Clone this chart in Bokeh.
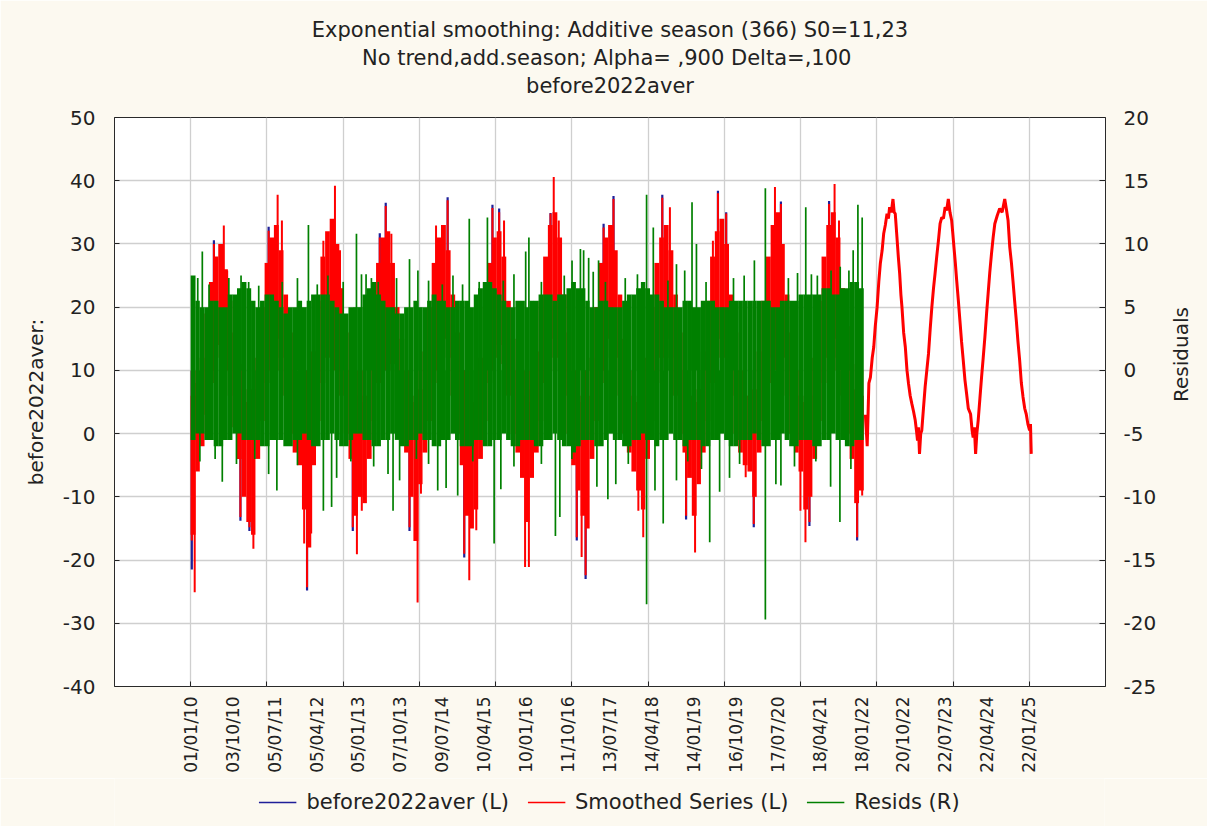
import math
import pandas as pd
from bokeh.plotting import figure
from bokeh.layouts import column
from bokeh.models import Range1d, LinearAxis, FixedTicker, Legend, LegendItem, Title
from bokeh.embed import file_html
from bokeh.resources import INLINE

ORIGIN = pd.Timestamp("2010-01-01")
FONT = "DejaVu Sans"

# ---------------- titles / axis ticks / labels ----------------
title_lines = ["Exponential smoothing: Additive season (366) S0=11,23",
               "No trend,add.season; Alpha=  ,900 Delta=,100",
               "before2022aver"]
series_names = ["before2022aver (L)", "Smoothed Series (L)", "Resids (R)"]
tick_labels = ["01/01/10", "03/10/10", "05/07/11", "05/04/12", "05/01/13", "07/10/13",
               "09/07/14", "10/04/15", "10/01/16", "11/10/16", "13/07/17", "14/04/18",
               "14/01/19", "16/10/19", "17/07/20", "18/04/21", "18/01/22", "20/10/22",
               "22/07/23", "22/04/24", "22/01/25"]
grid_cases = [0, 500, 1000, 1500, 2000, 2500, 3000, 3500, 4000, 4500, 5000, 5500]
left_ticks = [-40, -30, -20, -10, 0, 10, 20, 30, 40, 50]
right_ticks = [-25, -20, -15, -10, -5, 0, 5, 10, 15, 20]

# ---------------- observed period, monthly envelopes (Jan 2010 .. Jan 2022) ----------------
# before2022aver / smoothed series envelope (left axis)
red_hi = [6, 8, 12, 19, 24, 28, 30, 26, 21, 16, 11, 7,      # 2010
          5, 7, 12, 20, 27, 31, 33, 29, 22, 16, 10, 7,      # 2011
          5, 6, 13, 21, 28, 32, 34, 30, 23, 16, 10, 6,      # 2012
          5, 6, 12, 20, 27, 31, 32, 27, 20, 15, 10, 6,      # 2013
          5, 7, 13, 20, 27, 31, 33, 29, 22, 16, 10, 6,      # 2014
          5, 7, 12, 20, 27, 31, 32, 28, 21, 15, 10, 6,      # 2015
          5, 7, 13, 21, 28, 33, 35, 31, 22, 16, 10, 6,      # 2016
          5, 6, 12, 20, 27, 31, 33, 29, 22, 15, 10, 6,      # 2017
          5, 6, 12, 20, 27, 31, 33, 29, 22, 16, 10, 6,      # 2018
          5, 7, 13, 21, 28, 32, 34, 30, 22, 16, 10, 6,      # 2019
          6, 7, 13, 21, 28, 33, 35, 30, 22, 16, 10, 6,      # 2020
          5, 6, 12, 21, 28, 33, 35, 31, 23, 17, 11, 7,      # 2021
          6]                                                # 2022
red_lo = [-16, -6, -2, 3, 8, 12, 14, 11, 6, 1, -4, -10,
          -14, -16, -4, 2, 8, 12, 15, 12, 6, 0, -3, -5,
          -12, -18, -5, 2, 8, 12, 15, 12, 6, 0, -4, -13,
          -10, -11, -4, 2, 8, 12, 14, 11, 6, 0, -3, -10,
          -17, -8, -3, 2, 8, 12, 15, 12, 6, 0, -5, -13,
          -15, -12, -4, 2, 8, 12, 14, 11, 6, 0, -3, -7,
          -14, -7, -3, 2, 8, 12, 15, 12, 6, 0, -5, -9,
          -13, -15, -4, 2, 8, 12, 15, 12, 6, 0, -3, -6,
          -9, -12, -4, 2, 8, 12, 15, 12, 6, 0, -3, -7,
          -13, -8, -3, 2, 8, 12, 15, 12, 6, 0, -3, -5,
          -6, -10, -3, 2, 8, 12, 15, 12, 6, 0, -3, -6,
          -12, -10, -4, 2, 8, 12, 15, 12, 6, 0, -4, -11,
          -9]
# residual core envelope (right axis)
resid_hi = [7.5, 5.5, 5.0, 5.0, 5.5, 5.5, 5.0, 5.0, 6.0, 6.0, 6.5, 7.0,
            6.5, 5.5, 5.0, 5.5, 6.0, 6.0, 5.5, 5.0, 4.5, 5.0, 5.0, 5.5,
            5.0, 5.5, 6.0, 6.0, 6.0, 6.0, 5.5, 5.0, 4.5, 4.5, 5.0, 5.0,
            5.0, 6.0, 6.5, 7.0, 6.0, 5.5, 5.0, 5.0, 4.5, 4.5, 5.0, 5.0,
            5.5, 5.0, 5.0, 5.5, 6.0, 5.5, 5.5, 5.0, 5.0, 5.5, 5.5, 5.5,
            5.0, 6.0, 6.5, 7.0, 7.0, 6.5, 6.0, 5.5, 5.0, 5.0, 5.5, 5.5,
            5.0, 5.5, 5.5, 6.0, 6.0, 6.0, 5.5, 6.0, 6.0, 6.5, 7.0, 6.5,
            6.5, 5.5, 5.0, 5.0, 5.5, 5.5, 5.0, 5.0, 5.0, 5.5, 6.0, 6.0,
            6.5, 7.0, 6.5, 6.0, 6.0, 5.5, 5.0, 5.0, 5.0, 5.0, 5.5, 5.5,
            5.0, 5.0, 5.5, 5.5, 5.5, 5.0, 5.0, 5.0, 5.5, 5.5, 5.5, 5.5,
            5.5, 5.5, 5.5, 5.5, 5.5, 5.0, 5.0, 5.5, 5.5, 5.5, 5.5, 6.0,
            6.0, 6.0, 6.0, 6.0, 6.5, 6.5, 6.0, 6.0, 6.5, 6.5, 7.0, 7.0,
            6.5]
resid_lo = [-5.5, -5.0, -5.0, -5.5, -5.5, -6.0, -6.0, -5.5, -5.5, -5.0, -5.0, -5.5,
            -5.5, -5.5, -5.5, -6.0, -6.0, -5.5, -5.5, -5.5, -6.0, -6.0, -5.5, -5.5,
            -5.0, -5.5, -6.0, -6.0, -5.5, -5.5, -5.0, -5.5, -6.0, -6.0, -5.5, -5.0,
            -5.0, -5.5, -5.5, -6.0, -6.0, -5.5, -5.5, -5.0, -5.5, -6.0, -6.0, -5.5,
            -5.5, -5.0, -5.5, -5.5, -6.0, -6.0, -5.5, -5.5, -5.0, -5.5, -6.0, -6.0,
            -6.0, -5.5, -5.5, -6.0, -6.0, -5.5, -5.5, -5.0, -5.5, -6.0, -6.0, -5.5,
            -5.5, -5.5, -6.0, -6.0, -5.5, -5.5, -5.0, -5.5, -6.0, -6.0, -6.5, -6.0,
            -5.5, -5.5, -5.5, -6.0, -6.0, -5.5, -5.0, -5.5, -5.5, -6.0, -6.0, -5.5,
            -5.5, -5.0, -5.5, -5.5, -6.0, -5.5, -5.5, -5.0, -5.5, -5.5, -6.0, -5.5,
            -5.5, -5.5, -6.0, -6.0, -5.5, -5.5, -5.0, -5.5, -6.0, -6.0, -5.5, -5.5,
            -5.5, -5.0, -5.5, -6.0, -6.0, -5.5, -5.5, -5.0, -5.5, -6.0, -6.0, -5.5,
            -5.5, -5.5, -6.0, -6.0, -5.5, -5.5, -5.0, -5.5, -5.5, -6.0, -6.0, -5.5,
            -5.5]

# ---------------- single-day extremes (case number, value) ----------------
red_tip_day = [152, 217, 239, 511, 570, 598, 870, 946, 979, 1240, 1279, 1316,
               1609, 1685, 1979, 2023, 2055, 2360, 2381, 2414, 2708, 2773,
               3093, 3143, 3425, 3458, 3512, 3832, 3871, 4187, 4223, 4252,
               7, 26, 326, 385, 411, 744, 763, 790, 1063, 1090, 1122,
               1435, 1488, 1510, 1794, 1827, 1873, 2193, 2218,
               2532, 2564, 2590, 2936, 2968, 3249, 3308, 3640, 3693,
               3999, 4032, 4058, 4371, 4404]
red_tip_val = [30.0, 32.9, 25.8, 32.1, 37.8, 33.7, 30.5, 39.2, 29.0, 31.0, 36.0, 31.6,
               32.9, 36.9, 35.7, 35.0, 33.7, 34.8, 40.6, 33.7, 32.6, 37.1,
               37.3, 35.8, 30.5, 38.0, 34.8, 39.0, 36.3, 36.3, 39.5, 33.7,
               -16.9, -25.1, -13.2, -14.8, -18.2, -17.4, -24.3, -15.8, -14.8, -19.1, -12.2,
               -14.8, -26.7, -9.5, -19.0, -23.2, -15.3, -21.1, -21.1,
               -16.4, -19.5, -22.4, -12.2, -16.4, -13.0, -18.8, -6.9, -14.3,
               -12.2, -17.2, -14.0, -16.4, -9.8]

blue_tip_day = [152, 511, 1240, 1279, 1685, 1979, 2023, 2360, 2708, 2773, 3093, 3458, 3512, 3871, 4187,
                7, 326, 385, 763, 1063, 1435, 1794, 2532, 2590, 3249, 3693, 4058, 4371]
blue_tip_val = [30.6, 32.7, 31.7, 36.5, 37.4, 36.2, 35.6, 34.9, 33.2, 37.6, 37.8, 38.4, 35.0, 36.7, 36.8,
                -21.5, -13.8, -15.4, -24.8, -15.4, -15.4, -19.6, -16.9, -23.0, -13.6, -14.8, -14.6, -16.9]

resid_up_day = [22, 46, 76, 120, 250, 330, 380, 446, 600, 700, 772, 830, 900, 1000, 1087, 1120,
                1150, 1185, 1230, 1350, 1435, 1490, 1560, 1650, 1720, 1783, 1827, 1892, 1946,
                2050, 2120, 2197, 2218, 2300, 2450, 2501, 2556, 2577, 2610, 2640, 2675, 2720,
                2850, 2930, 2990, 3034, 3130, 3186, 3240, 3288, 3317, 3380, 3560, 3630,
                3697, 3769, 3920, 3980, 4034, 4071, 4110, 4200, 4260, 4317, 4345, 4376, 4404]
resid_up_val = [7.4, 7.3, 9.4, 6.8, 7.3, 7.5, 7.0, 6.7, 7.0, 7.3, 11.5, 6.8, 7.5, 7.0, 10.8, 7.6,
                7.6, 7.3, 7.0, 7.3, 8.8, 7.9, 7.1, 6.8, 7.5, 6.8, 12.0, 7.0, 12.1,
                7.1, 7.6, 9.4, 10.5, 7.0, 7.5, 8.7, 9.6, 9.5, 8.9, 7.8, 8.7, 7.0,
                7.3, 7.6, 13.9, 11.3, 7.1, 8.4, 7.9, 13.3, 10.0, 7.0, 7.3, 7.5,
                8.7, 14.4, 7.3, 7.7, 12.9, 7.6, 7.5, 7.9, 8.2, 7.9, 9.5, 13.1, 12.1]
resid_dn_day = [60, 160, 207, 300, 420, 511, 565, 700, 870, 924, 957, 1050, 1200, 1294, 1327,
                1370, 1480, 1560, 1620, 1675, 1751, 1850, 1990, 2034, 2120, 2300, 2392, 2421,
                2500, 2664, 2736, 2788, 2870, 2990, 3045, 3099, 3186, 3260, 3350, 3404, 3469,
                3534, 3600, 3769, 3838, 3871, 3960, 4100, 4197, 4258, 4330]
resid_dn_val = [-7.2, -7.0, -8.8, -7.4, -7.0, -8.2, -9.5, -7.5, -11.1, -10.8, -8.5, -7.2, -7.6, -8.2, -11.1,
                -8.7, -7.0, -7.4, -9.5, -9.3, -9.9, -7.2, -13.7, -9.4, -7.6, -7.4, -13.1, -11.6,
                -7.0, -9.2, -10.2, -9.0, -7.4, -18.5, -9.5, -12.1, -8.7, -7.2, -7.8, -13.6, -9.6,
                -8.5, -7.4, -19.7, -9.0, -9.1, -7.6, -7.2, -9.2, -12.0, -7.8]

# ---------------- forecast part of the smoothed series ----------------
fc_day = [4425, 4437, 4448, 4458, 4470, 4480, 4490, 4502, 4513, 4523, 4535, 4545, 4556, 4567,
          4576, 4584, 4595, 4606, 4614, 4621, 4632, 4641, 4650, 4658, 4665, 4676, 4687, 4698,
          4708, 4719, 4730, 4741, 4752, 4760, 4767, 4773, 4780, 4788, 4795, 4806, 4817, 4828,
          4839, 4850, 4861, 4872, 4882, 4893, 4904, 4915, 4926, 4937, 4948, 4958, 4969, 4980,
          4991, 4999, 5006, 5015, 5024, 5035, 5045, 5056, 5067, 5078, 5089, 5100, 5115, 5125,
          5132, 5140, 5148, 5156, 5165, 5176, 5187, 5198, 5209, 5220, 5230, 5241, 5252, 5263,
          5274, 5290, 5306, 5322, 5339, 5350, 5361, 5372, 5383, 5393, 5404, 5415, 5426, 5437,
          5448, 5459, 5470, 5480, 5491, 5502, 5508, 5513]
fc_val = [3.0, -2.0, 8.0, 8.9, 12.0, 13.7, 17.0, 20.0, 24.0, 26.9, 29.0, 31.6, 33.0, 34.8,
          34.0, 35.8, 35.0, 37.1, 35.0, 34.8, 31.1, 28.0, 25.3, 22.0, 20.0, 16.0, 13.7, 10.0,
          7.9, 6.0, 4.7, 3.5, 2.1, 0.5, -1.1, 1.0, -3.2, 0.0, 0.5, 4.0, 7.4, 10.0,
          12.6, 16.5, 20.0, 23.0, 25.3, 28.0, 30.5, 33.2, 34.2, 34.0, 35.8, 35.3, 37.1, 35.0,
          33.7, 31.5, 29.5, 27.0, 24.2, 21.0, 17.9, 14.5, 11.6, 8.5, 6.3, 4.0, 3.1, 0.5,
          -0.6, 1.0, -3.2, 0.0, 2.1, 5.5, 8.9, 12.0, 15.3, 19.0, 22.1, 25.5, 28.4, 31.0,
          33.2, 34.5, 35.6, 35.0, 37.1, 35.5, 33.7, 29.5, 27.0, 24.2, 21.0, 17.9, 14.5, 11.6,
          8.0, 5.8, 4.0, 3.1, 1.5, 0.5, 1.5, -3.2]

# ---------------- derived positions ----------------
label_cases = [(pd.to_datetime(s, format="%d/%m/%y") - ORIGIN).days for s in tick_labels]
month_edges = pd.date_range("2010-01-01", "2022-02-01", freq="MS")
m_start = [(d - ORIGIN).days for d in month_edges[:-1]]
m_end = [(d - ORIGIN).days for d in month_edges[1:]]
m_center = [(a + b) / 2 for a, b in zip(m_start, m_end)]
m_width = [(b - a) + 1 for a, b in zip(m_start, m_end)]

BLUE = "#1f1f99"
RED = "#ff0000"
GREEN = "#008000"
INK = "#222222"
PAGE = "#fcf9f0"

p = figure(frame_width=991, frame_height=569, title=None,
           x_range=Range1d(-500, 6000), y_range=Range1d(-40, 50),
           output_backend="svg", toolbar_location=None,
           min_border_left=114, min_border_right=102, min_border_top=117, min_border_bottom=92,
           background_fill_color="white", border_fill_color=PAGE)
p.extra_y_ranges = {"resid": Range1d(-25, 20)}
p.outline_line_color = "#2a2a2a"
p.outline_line_width = 1

# grid
p.xgrid.ticker = FixedTicker(ticks=grid_cases)
p.ygrid.ticker = FixedTicker(ticks=left_ticks)
for g in (p.xgrid, p.ygrid):
    g.grid_line_color = "#cfcfcf"
    g.grid_line_width = 1.3

# x axis
xa = p.xaxis[0]
xa.ticker = FixedTicker(ticks=label_cases, minor_ticks=grid_cases)
xa.major_label_overrides = {c: s for c, s in zip(label_cases, tick_labels)}
xa.major_label_orientation = math.pi / 2
xa.major_tick_in = 0
xa.major_tick_out = 0
xa.minor_tick_in = 5
xa.minor_tick_out = 0
xa.minor_tick_line_color = INK
xa.axis_line_color = None
xa.major_label_standoff = 10

# left axis
ya = p.yaxis[0]
ya.ticker = FixedTicker(ticks=left_ticks)
ya.major_label_overrides = {v: str(v) for v in left_ticks}
ya.axis_label = "before2022aver:"
ya.major_tick_in = 5
ya.major_tick_out = 0
ya.minor_tick_line_color = None
ya.axis_line_color = None
ya.major_label_standoff = 19
ya.axis_label_standoff = 12

# right axis
ra = LinearAxis(y_range_name="resid", ticker=FixedTicker(ticks=right_ticks), axis_label="Residuals")
ra.major_label_overrides = {v: str(v) for v in right_ticks}
ra.major_tick_in = 6
ra.major_tick_out = 0
ra.minor_tick_line_color = None
ra.axis_line_color = None
ra.major_label_standoff = 18
ra.axis_label_standoff = 22
if "axis_label_orientation" in ra.properties():
    ra.axis_label_orientation = math.pi / 2
p.add_layout(ra, "right")

for ax in (ya, ra):
    ax.major_label_text_font_size = "20px"
xa.major_label_text_font_size = "17px"
for ax in (xa, ya, ra):
    ax.major_label_text_font = FONT
    ax.major_label_text_color = INK
    ax.axis_label_text_font = FONT
    ax.axis_label_text_font_size = "20px"
    ax.axis_label_text_font_style = "normal"
    ax.axis_label_text_color = INK
    ax.major_tick_line_color = INK

# ---------------- data renderers ----------------
p.segment(x0=blue_tip_day, y0=[10] * len(blue_tip_day), x1=blue_tip_day, y1=blue_tip_val,
          line_color=BLUE, line_width=2.2)
p.vbar(x=m_center, width=m_width, bottom=red_lo, top=red_hi, fill_color=RED, line_color=None)
p.segment(x0=red_tip_day, y0=[10] * len(red_tip_day), x1=red_tip_day, y1=red_tip_val,
          line_color=RED, line_width=2)
p.line(fc_day, fc_val, line_color=RED, line_width=3)
p.vbar(x=m_center, width=m_width, bottom=resid_lo, top=resid_hi, fill_color=GREEN, line_color=None,
       y_range_name="resid")
p.segment(x0=resid_up_day + resid_dn_day, y0=[0] * (len(resid_up_day) + len(resid_dn_day)),
          x1=resid_up_day + resid_dn_day, y1=resid_up_val + resid_dn_val,
          line_color=GREEN, line_width=1.7, y_range_name="resid")

# title stack (first added = closest to the frame); a blank spacer keeps the gap above the frame
p.add_layout(Title(text=" ", text_font_size="1px", standoff=15), "above")
for txt, so in [(title_lines[2], 4), (title_lines[1], 0), (title_lines[0], 4)]:
    p.add_layout(Title(text=txt, align="center", text_font=FONT, text_font_size="21px",
                       text_font_style="normal", text_color=INK, standoff=so), "above")

# ---------------- legend strip below the chart ----------------
q = figure(width=1207, height=48, x_range=Range1d(0, 1), y_range=Range1d(0, 1),
           output_backend="svg", toolbar_location=None, title=None,
           x_axis_location=None, y_axis_location=None,
           min_border_left=0, min_border_right=0, min_border_top=0, min_border_bottom=0,
           background_fill_color=PAGE, border_fill_color=PAGE, outline_line_color=None)
q.xgrid.visible = False
q.ygrid.visible = False
# one-point lines: nothing is drawn, they only carry the legend styles
lg_blue = q.line(x=blue_tip_day[:1], y=blue_tip_val[:1], line_color=BLUE, line_width=1.5)
lg_red = q.line(x=fc_day[:1], y=fc_val[:1], line_color=RED, line_width=1.5)
lg_green = q.line(x=resid_up_day[:1], y=resid_up_val[:1], line_color=GREEN, line_width=1.5)
legend = Legend(items=[LegendItem(label=series_names[0], renderers=[lg_blue]),
                       LegendItem(label=series_names[1], renderers=[lg_red]),
                       LegendItem(label=series_names[2], renderers=[lg_green])],
                orientation="horizontal", location="center",
                background_fill_alpha=0, border_line_color=None,
                label_text_font=FONT, label_text_font_size="21px", label_text_color=INK,
                glyph_width=38, glyph_height=20, label_standoff=10, spacing=18, margin=0, padding=4)
q.add_layout(legend, "center")

open("out.html", "w").write(file_html(column(p, q, spacing=0), INLINE))
